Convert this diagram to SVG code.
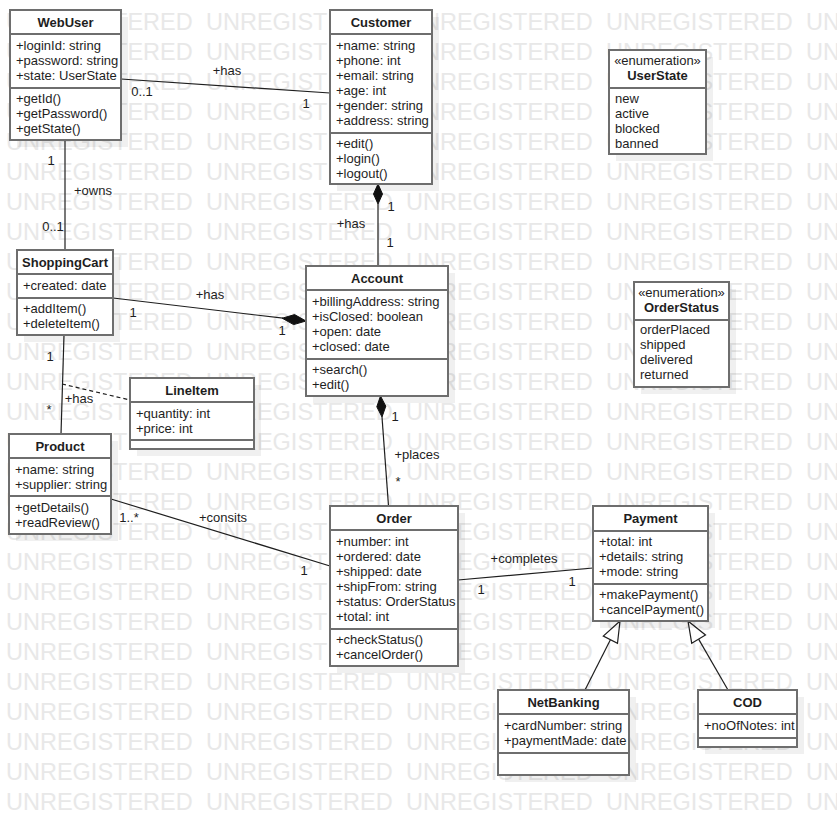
<svg xmlns="http://www.w3.org/2000/svg" xmlns:xlink="http://www.w3.org/1999/xlink" width="837" height="815" viewBox="0 0 837 815">
<style>
text{font-family:"Liberation Sans",Arial,sans-serif;font-size:13px;fill:#1e1e1e}
.wm{font-size:23.5px;fill:#e8e8e8}
.t{font-weight:bold;text-anchor:middle}
.c{text-anchor:middle}
.box{fill:#fff;stroke:#6e6e6e;stroke-width:2}
.sh{fill:#000;opacity:0.06}
.sep{stroke:#6e6e6e;stroke-width:2}
.ln{stroke:#1e1e1e;stroke-width:1.2;fill:none}
.dash{stroke:#1e1e1e;stroke-width:1.2;fill:none;stroke-dasharray:4 3}
.dia{fill:#111;stroke:#111;stroke-width:1}
.tri{fill:#fff;stroke:#1e1e1e;stroke-width:1.2}
.lbl{text-anchor:middle}
</style>
<defs>
<text id="wmrow" class="wm"><tspan x="6">UNREGISTERED</tspan><tspan x="206">UNREGISTERED</tspan><tspan x="406">UNREGISTERED</tspan><tspan x="606">UNREGISTERED</tspan><tspan x="806">UNREGISTERED</tspan></text>
</defs>
<rect width="837" height="815" fill="#fff"/>
<g id="watermark">
<use href="#wmrow" y="30"/><use href="#wmrow" y="60"/><use href="#wmrow" y="90"/><use href="#wmrow" y="120"/><use href="#wmrow" y="150"/><use href="#wmrow" y="180"/><use href="#wmrow" y="210"/><use href="#wmrow" y="240"/><use href="#wmrow" y="270"/><use href="#wmrow" y="300"/><use href="#wmrow" y="330"/><use href="#wmrow" y="360"/><use href="#wmrow" y="390"/><use href="#wmrow" y="420"/><use href="#wmrow" y="450"/><use href="#wmrow" y="480"/><use href="#wmrow" y="510"/><use href="#wmrow" y="540"/><use href="#wmrow" y="570"/><use href="#wmrow" y="600"/><use href="#wmrow" y="630"/><use href="#wmrow" y="660"/><use href="#wmrow" y="690"/><use href="#wmrow" y="720"/><use href="#wmrow" y="750"/><use href="#wmrow" y="780"/><use href="#wmrow" y="810"/>
</g>

<g id="connectors">
<line class="ln" x1="121" y1="79" x2="330" y2="93"/>
<line class="ln" x1="65" y1="140" x2="65" y2="250"/>
<line class="ln" x1="378" y1="204" x2="378" y2="266"/>
<polygon class="dia" points="378,184 382.5,194 378,204 373.5,194"/>
<line class="ln" x1="113" y1="298" x2="283" y2="318.2"/>
<polygon class="dia" points="306,321 294.6,314.6 282.2,318.2 293.6,324.6"/>
<line class="ln" x1="64" y1="335" x2="61" y2="434"/>
<line class="dash" x1="62" y1="384" x2="130" y2="400"/>
<line class="ln" x1="382" y1="417" x2="388.5" y2="506"/>
<polygon class="dia" points="380.5,396 385.8,406.2 382,417 376.8,406.8"/>
<line class="ln" x1="111" y1="499" x2="330" y2="566"/>
<line class="ln" x1="458" y1="580" x2="593" y2="568"/>
<line class="ln" x1="585" y1="690" x2="610.4" y2="639.7"/>
<polygon class="tri" points="620,621 617.5,643.4 603.3,636"/>
<line class="ln" x1="728" y1="690" x2="698.6" y2="639.1"/>
<polygon class="tri" points="688,621 705.5,635 691.7,643.2"/>
<text class="lbl" x="227" y="75">+has</text>
<text class="lbl" x="142" y="96">0..1</text>
<text class="lbl" x="306" y="108">1</text>
<text class="lbl" x="51" y="165">1</text>
<text class="lbl" x="93" y="195">+owns</text>
<text class="lbl" x="53" y="231">0..1</text>
<text class="lbl" x="391" y="211">1</text>
<text class="lbl" x="351" y="228">+has</text>
<text class="lbl" x="390" y="247">1</text>
<text class="lbl" x="210" y="299">+has</text>
<text class="lbl" x="133" y="317">1</text>
<text class="lbl" x="282" y="335">1</text>
<text class="lbl" x="50" y="361">1</text>
<text class="lbl" x="79" y="403">+has</text>
<text class="lbl" x="49" y="414">*</text>
<text class="lbl" x="395" y="421">1</text>
<text class="lbl" x="417" y="459">+places</text>
<text class="lbl" x="398" y="486">*</text>
<text class="lbl" x="129" y="522">1..*</text>
<text class="lbl" x="223" y="522">+consits</text>
<text class="lbl" x="304" y="575">1</text>
<text class="lbl" x="524" y="563">+completes</text>
<text class="lbl" x="481" y="594">1</text>
<text class="lbl" x="572" y="586">1</text>
</g>

<g id="WebUser">
<rect class="sh" x="17" y="17" width="111" height="130"/>
<rect class="box" x="10" y="10" width="111" height="130"/>
<line class="sep" x1="10" y1="34" x2="121" y2="34"/>
<line class="sep" x1="10" y1="88" x2="121" y2="88"/>
<text class="t" x="65.5" y="27">WebUser</text>
<text x="16" y="50">+loginId: string</text>
<text x="16" y="65">+password: string</text>
<text x="16" y="80">+state: UserState</text>
<text x="16" y="103">+getId()</text>
<text x="16" y="118">+getPassword()</text>
<text x="16" y="133">+getState()</text>
</g>

<g id="Customer">
<rect class="sh" x="337" y="17" width="102" height="174"/>
<rect class="box" x="330" y="10" width="102" height="174"/>
<line class="sep" x1="330" y1="34" x2="432" y2="34"/>
<line class="sep" x1="330" y1="133" x2="432" y2="133"/>
<text class="t" x="381" y="27">Customer</text>
<text x="336" y="50">+name: string</text>
<text x="336" y="65">+phone: int</text>
<text x="336" y="80">+email: string</text>
<text x="336" y="95">+age: int</text>
<text x="336" y="110">+gender: string</text>
<text x="336" y="125">+address: string</text>
<text x="336" y="148">+edit()</text>
<text x="336" y="163">+login()</text>
<text x="336" y="178">+logout()</text>
</g>

<g id="UserState">
<rect class="sh" x="616" y="57" width="97" height="104"/>
<rect class="box" x="609" y="50" width="97" height="104"/>
<line class="sep" x1="609" y1="88" x2="706" y2="88"/>
<text class="c" x="657.5" y="65">«enumeration»</text>
<text class="t" x="657.5" y="80">UserState</text>
<text x="615" y="103">new</text>
<text x="615" y="118">active</text>
<text x="615" y="133">blocked</text>
<text x="615" y="148">banned</text>
</g>

<g id="ShoppingCart">
<rect class="sh" x="24" y="257" width="96" height="85"/>
<rect class="box" x="17" y="250" width="96" height="85"/>
<line class="sep" x1="17" y1="274" x2="113" y2="274"/>
<line class="sep" x1="17" y1="298" x2="113" y2="298"/>
<text class="t" x="65" y="267">ShoppingCart</text>
<text x="23" y="290">+created: date</text>
<text x="23" y="313">+addItem()</text>
<text x="23" y="328">+deleteItem()</text>
</g>

<g id="Account">
<rect class="sh" x="313" y="273" width="142" height="130"/>
<rect class="box" x="306" y="266" width="142" height="130"/>
<line class="sep" x1="306" y1="290" x2="448" y2="290"/>
<line class="sep" x1="306" y1="359" x2="448" y2="359"/>
<text class="t" x="377" y="283">Account</text>
<text x="312" y="306">+billingAddress: string</text>
<text x="312" y="321">+isClosed: boolean</text>
<text x="312" y="336">+open: date</text>
<text x="312" y="351">+closed: date</text>
<text x="312" y="374">+search()</text>
<text x="312" y="389">+edit()</text>
</g>

<g id="OrderStatus">
<rect class="sh" x="641" y="289" width="95" height="105"/>
<rect class="box" x="634" y="282" width="95" height="105"/>
<line class="sep" x1="634" y1="320" x2="729" y2="320"/>
<text class="c" x="681.5" y="297">«enumeration»</text>
<text class="t" x="681.5" y="312">OrderStatus</text>
<text x="640" y="334">orderPlaced</text>
<text x="640" y="349">shipped</text>
<text x="640" y="364">delivered</text>
<text x="640" y="379">returned</text>
</g>

<g id="LineItem">
<rect class="sh" x="137" y="385" width="124" height="71"/>
<rect class="box" x="130" y="378" width="124" height="71"/>
<line class="sep" x1="130" y1="402" x2="254" y2="402"/>
<line class="sep" x1="130" y1="440" x2="254" y2="440"/>
<text class="t" x="192" y="395">LineItem</text>
<text x="136" y="418">+quantity: int</text>
<text x="136" y="433">+price: int</text>
</g>

<g id="Product">
<rect class="sh" x="16" y="441" width="102" height="100"/>
<rect class="box" x="9" y="434" width="102" height="100"/>
<line class="sep" x1="9" y1="458" x2="111" y2="458"/>
<line class="sep" x1="9" y1="496" x2="111" y2="496"/>
<text class="t" x="60" y="451">Product</text>
<text x="15" y="474">+name: string</text>
<text x="15" y="489">+supplier: string</text>
<text x="15" y="512">+getDetails()</text>
<text x="15" y="527">+readReview()</text>
</g>

<g id="Order">
<rect class="sh" x="337" y="513" width="128" height="160"/>
<rect class="box" x="330" y="506" width="128" height="160"/>
<line class="sep" x1="330" y1="530" x2="458" y2="530"/>
<line class="sep" x1="330" y1="629" x2="458" y2="629"/>
<text class="t" x="394" y="523">Order</text>
<text x="336" y="546">+number: int</text>
<text x="336" y="561">+ordered: date</text>
<text x="336" y="576">+shipped: date</text>
<text x="336" y="591">+shipFrom: string</text>
<text x="336" y="606">+status: OrderStatus</text>
<text x="336" y="621">+total: int</text>
<text x="336" y="644">+checkStatus()</text>
<text x="336" y="659">+cancelOrder()</text>
</g>

<g id="Payment">
<rect class="sh" x="600" y="513" width="115" height="115"/>
<rect class="box" x="593" y="506" width="115" height="115"/>
<line class="sep" x1="593" y1="531" x2="708" y2="531"/>
<line class="sep" x1="593" y1="584" x2="708" y2="584"/>
<text class="t" x="650.5" y="523">Payment</text>
<text x="599" y="546">+total: int</text>
<text x="599" y="561">+details: string</text>
<text x="599" y="576">+mode: string</text>
<text x="599" y="599">+makePayment()</text>
<text x="599" y="614">+cancelPayment()</text>
</g>

<g id="NetBanking">
<rect class="sh" x="505" y="697" width="131" height="85"/>
<rect class="box" x="498" y="690" width="131" height="85"/>
<line class="sep" x1="498" y1="714" x2="629" y2="714"/>
<line class="sep" x1="498" y1="753" x2="629" y2="753"/>
<text class="t" x="563.5" y="707">NetBanking</text>
<text x="504" y="730">+cardNumber: string</text>
<text x="504" y="745">+paymentMade: date</text>
</g>

<g id="COD">
<rect class="sh" x="705" y="697" width="99" height="57"/>
<rect class="box" x="698" y="690" width="99" height="57"/>
<line class="sep" x1="698" y1="714" x2="797" y2="714"/>
<line class="sep" x1="698" y1="738" x2="797" y2="738"/>
<text class="t" x="747.5" y="707">COD</text>
<text x="704" y="730">+noOfNotes: int</text>
</g>
</svg>
